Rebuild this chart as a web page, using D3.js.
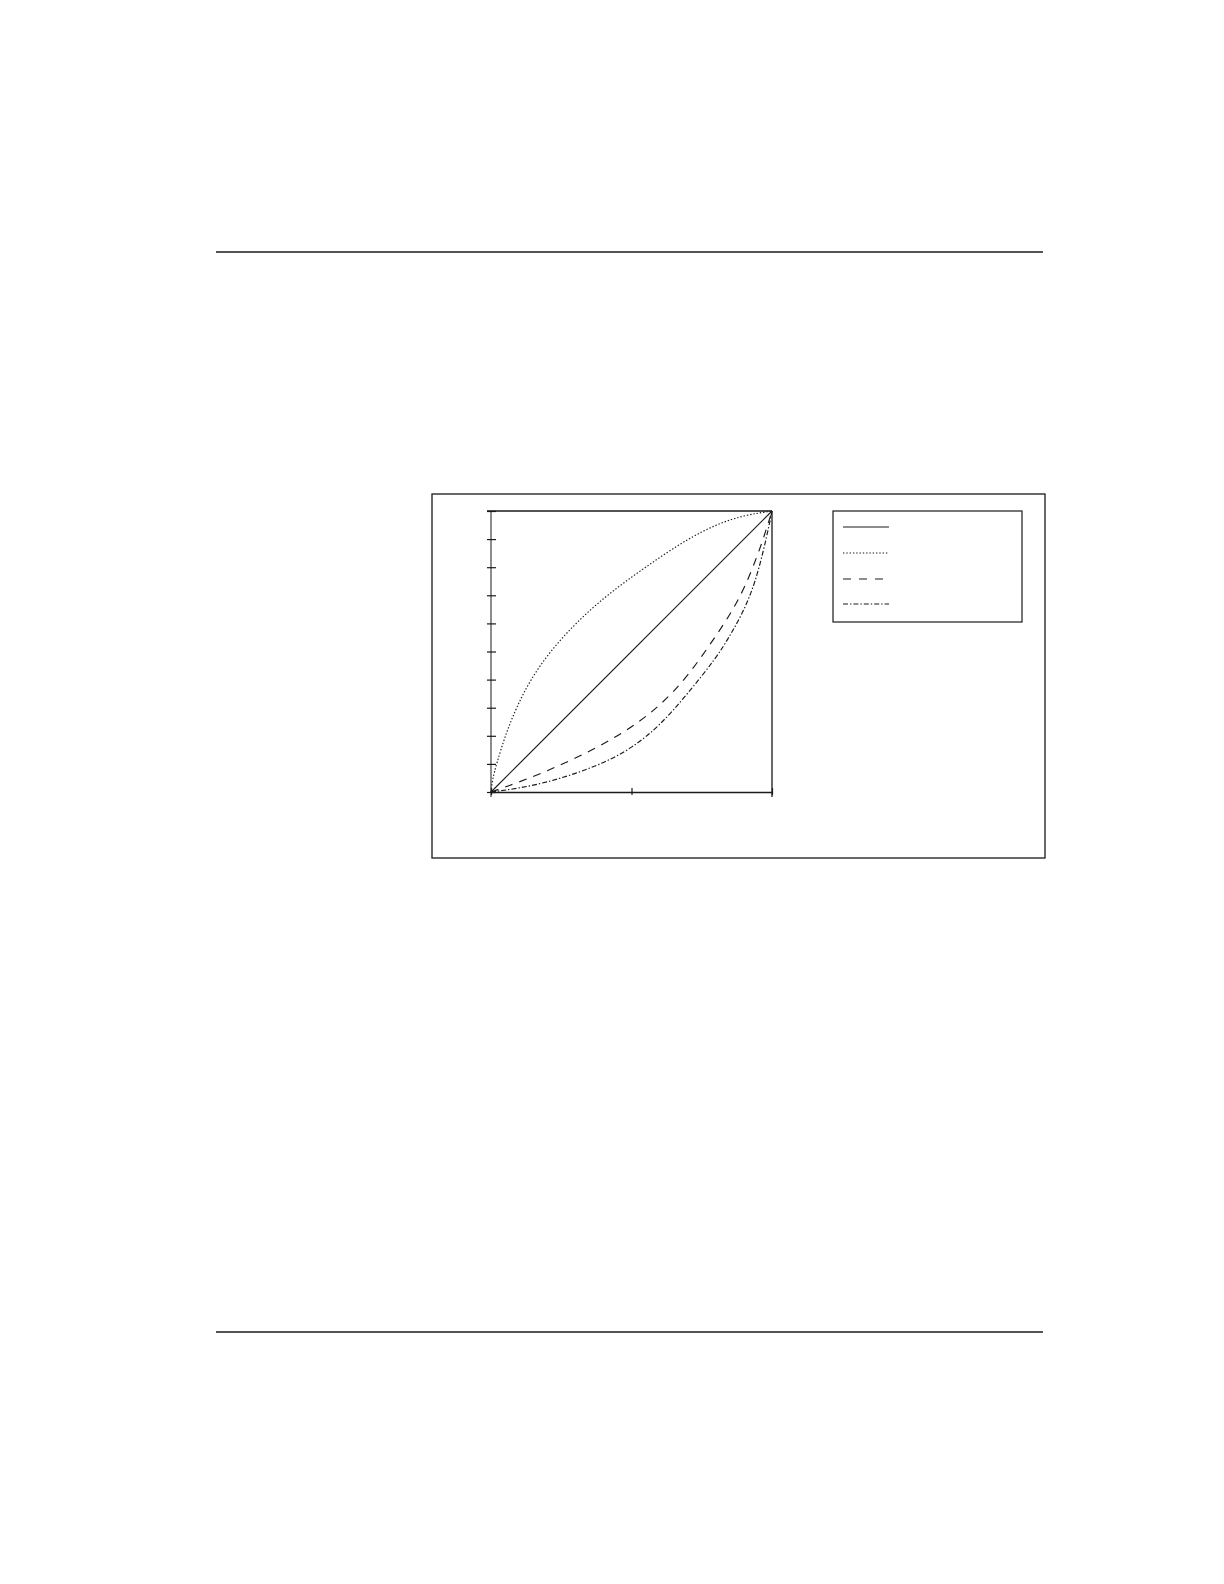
<!DOCTYPE html>
<html>
<head>
<meta charset="utf-8">
<script src="https://cdn.jsdelivr.net/npm/d3@7"></script>
<style>
  html, body { margin: 0; padding: 0; background: #fff; }
  svg { display: block; }
</style>
</head>
<body>
<svg id="page" width="1224" height="1584"></svg>
<script>
// Data (x, y both on 0..1)
const xTicks = [0, 0.5, 1];
const yTicks = [0, 0.1, 0.2, 0.3, 0.4, 0.5, 0.6, 0.7, 0.8, 0.9, 1];

const solidX = [0, 1];
const solidY = [0, 1];

const dottedX = [0, 0.005, 0.02, 0.05, 0.09, 0.14, 0.21, 0.3, 0.4, 0.5, 0.6, 0.7, 0.8, 0.9, 1];
const dottedY = [0, 0.045, 0.1, 0.2, 0.3, 0.4, 0.5, 0.6, 0.69, 0.765, 0.835, 0.9, 0.952, 0.985, 1];

const dashedX = [0, 0.1, 0.2, 0.3, 0.4, 0.5, 0.6, 0.7, 0.8, 0.85, 0.9, 0.95, 0.98, 1];
const dashedY = [0, 0.035, 0.075, 0.12, 0.17, 0.23, 0.305, 0.41, 0.555, 0.63, 0.72, 0.845, 0.935, 1];

const dashDotX = [0, 0.1, 0.2, 0.3, 0.4, 0.5, 0.6, 0.7, 0.8, 0.85, 0.9, 0.94, 0.97, 0.99, 1];
const dashDotY = [0, 0.013, 0.035, 0.065, 0.103, 0.155, 0.235, 0.35, 0.475, 0.555, 0.645, 0.745, 0.86, 0.95, 1];

// line styles, in legend order
const seriesStyles = [
    { xs: solidX,   ys: solidY,   dash: null },
    { xs: dottedX,  ys: dottedY,  dash: "1.4,1.9" },
    { xs: dashedX,  ys: dashedY,  dash: "8,7" },
    { xs: dashDotX, ys: dashDotY, dash: "5,2,1.4,2" }
];

const svg = d3.select("#page");
const ink = "#1a1a1a";

// page rules
svg.append("line").attr("x1", 216).attr("x2", 1043).attr("y1", 252).attr("y2", 252)
    .style("stroke", ink).style("stroke-width", 1.3);
svg.append("line").attr("x1", 216).attr("x2", 1043).attr("y1", 1332).attr("y2", 1332)
    .style("stroke", ink).style("stroke-width", 1.3);

// outer frame
svg.append("rect").attr("x", 432).attr("y", 494).attr("width", 613).attr("height", 364)
    .style("fill", "none").style("stroke", ink).style("stroke-width", 1.3);

// Scales
const x = d3.scaleLinear().domain([0, 1]).range([491, 772]);
const y = d3.scaleLinear().domain([0, 1]).range([792, 511]);

// top and right border of plot
svg.append("line").attr("x1", x(0) - 4).attr("x2", x(1)).attr("y1", y(1)).attr("y2", y(1))
    .style("stroke", ink).style("stroke-width", 1.3);
svg.append("line").attr("x1", x(1)).attr("x2", x(1)).attr("y1", y(1)).attr("y2", y(0) + 5)
    .style("stroke", ink).style("stroke-width", 1.3);

// Y axis (grey spine, ticks crossing it)
const yAxis = svg.append("g")
    .attr("transform", `translate(${x(0)},0)`)
    .call(d3.axisLeft(y).tickValues(yTicks).tickSize(4).tickSizeOuter(0).tickFormat(""));
yAxis.select(".domain").style("stroke", "#8c8c8c").style("stroke-width", 2)
    .attr("d", `M0,${y(1)}V${y(0) + 5}`);
yAxis.selectAll(".tick line").attr("x1", 5).style("stroke", ink).style("stroke-width", 1.2);

// X axis
const xAxis = svg.append("g")
    .attr("transform", `translate(0,${y(0)})`)
    .call(d3.axisBottom(x).tickValues(xTicks).tickSize(3).tickSizeOuter(0).tickFormat(""));
xAxis.select(".domain").style("stroke", ink).style("stroke-width", 1.3);
xAxis.selectAll(".tick line").attr("y1", -4).style("stroke", ink).style("stroke-width", 1.2);

// Curves
const line = d3.line()
    .x(d => x(d[0]))
    .y(d => y(d[1]))
    .curve(d3.curveBasis);

seriesStyles.forEach(s => {
    const pts = s.xs.map((v, i) => [v, s.ys[i]]);
    svg.append("path")
        .datum(pts)
        .attr("d", line)
        .style("fill", "none")
        .style("stroke", ink)
        .style("stroke-width", 1.15)
        .style("stroke-dasharray", s.dash);
});

// Legend (line samples only)
const legend = svg.append("g");
legend.append("rect").attr("x", 833).attr("y", 511).attr("width", 189).attr("height", 111)
    .style("fill", "none").style("stroke", ink).style("stroke-width", 1.2);

const legendRows = [527, 553, 579, 604];
const legendDash = [null, "1.4,1.9", "8,8", "5,2,1.4,2"];
legendRows.forEach((ry, i) => {
    legend.append("line")
        .attr("x1", 843).attr("x2", 889)
        .attr("y1", ry).attr("y2", ry)
        .style("stroke", ink)
        .style("stroke-width", 1.2)
        .style("stroke-dasharray", legendDash[i]);
});
</script>
</body>
</html>
